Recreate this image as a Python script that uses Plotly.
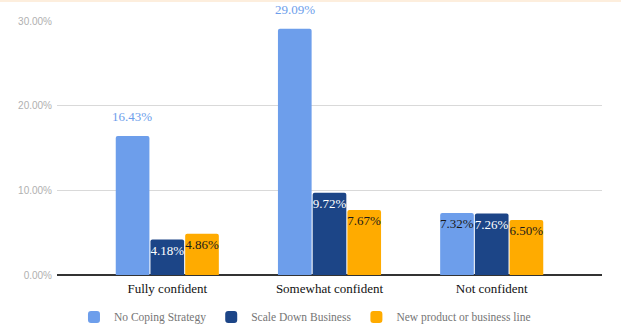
import plotly.graph_objects as go

categories = ["Fully confident", "Somewhat confident", "Not confident"]
series_names = ["No Coping Strategy", "Scale Down Business", "New product or business line"]
no_coping = [0.1643, 0.2909, 0.0732]
scale_down = [0.0418, 0.0972, 0.0726]
new_product = [0.0486, 0.0767, 0.0650]
tick_vals = [0, 0.10, 0.20, 0.30]
tick_text = ["0.00%", "10.00%", "20.00%", "30.00%"]

colors = ["#6d9eeb", "#1c4587", "#ffab00"]
all_values = [no_coping, scale_down, new_product]
n_series = len(all_values)

fig = go.Figure()
annotations = []
for si, (name, vals, col) in enumerate(zip(series_names, all_values, colors)):
    texts = []
    text_colors = []
    for ci, v in enumerate(vals):
        label = f"{v*100:.2f}%"
        if v > 0.12:
            texts.append("")
            text_colors.append(col)
            annotations.append(dict(
                x=categories[ci], y=v, xref="x", yref="y", text=label,
                showarrow=False, yanchor="bottom", yshift=10,
                xshift=(si - (n_series - 1) / 2) * 35,
                font=dict(family="Liberation Serif", size=13, color=col)))
        else:
            texts.append(label)
            text_colors.append("#ffffff" if col == "#1c4587" else "#1a1a1a")
    fig.add_trace(go.Bar(
        name=name, x=categories, y=vals, marker=dict(color=col, line=dict(width=0)),
        text=texts, textposition="inside", textangle=0,
        insidetextanchor="end", constraintext="none", cliponaxis=False,
        textfont=dict(family="Liberation Serif", size=13, color=text_colors),
        hoverinfo="skip",
    ))

fig.update_layout(
    width=621, height=334,
    margin=dict(l=57, r=19, t=21, b=59, autoexpand=False),
    paper_bgcolor="white", plot_bgcolor="white",
    barmode="group", bargap=0.358, bargroupgap=0.03, barcornerradius=2,
    showlegend=True,
    legend=dict(orientation="h", x=0.455, xanchor="center", y=-0.165, yanchor="middle",
                font=dict(family="Liberation Serif", size=11.5, color="#757575"),
                itemwidth=30, traceorder="normal"),
    xaxis=dict(range=[-0.68, 2.68], showgrid=False, showline=False, ticks="",
               ticklabelstandoff=4,
               tickfont=dict(family="Liberation Serif", size=13, color="#111111")),
    yaxis=dict(range=[0, 0.30], tickvals=tick_vals, ticktext=tick_text,
               showgrid=True, gridcolor="#d9d9d9", gridwidth=1,
               zeroline=True, zerolinecolor="#333333", zerolinewidth=1.5,
               showline=False, ticks="", ticklabelstandoff=4,
               tickfont=dict(family="Liberation Sans", size=10, color="#b0b0b0")),
    annotations=annotations,
    shapes=[dict(type="rect", xref="paper", yref="paper", x0=-0.2, x1=1.2,
                 y0=1 + 19/254, y1=1 + 21/254, line=dict(width=0),
                 fillcolor="#fdeedd", layer="below")],
)

fig.write_html("out.html")
